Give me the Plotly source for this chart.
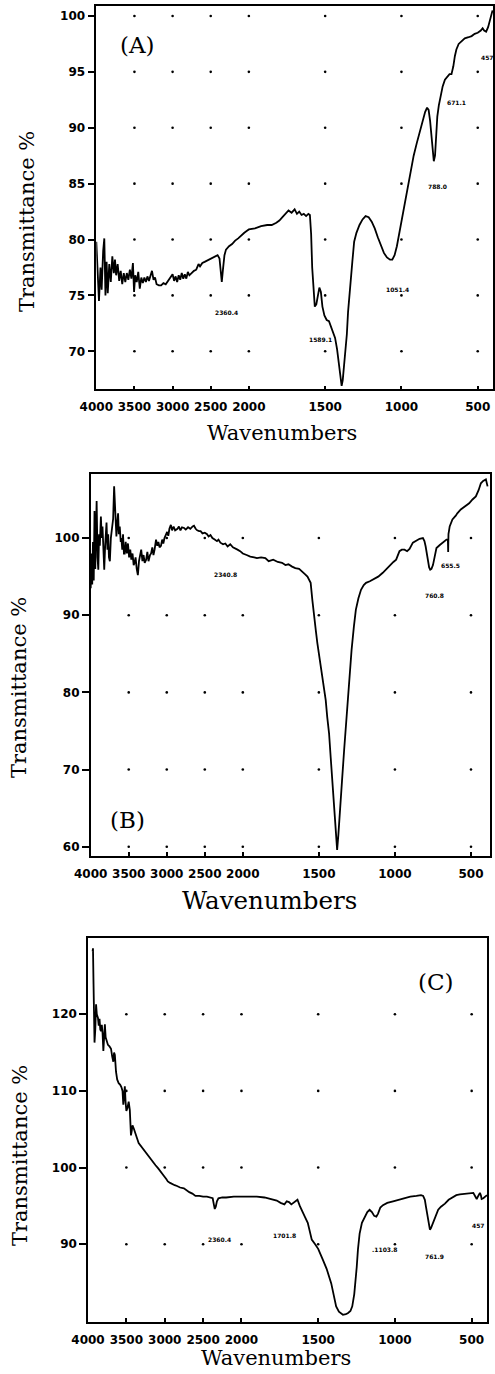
import plotly.graph_objects as go

# ---------------- data ----------------
A_wn = [4000,3985,3965,3945,3930,3910,3895,3880,3865,3850,3830,3810,3790,3770,3755,3740,3720,3700,3680,3660,
        3640,3620,3600,3580,3560,3540,3520,3505,3490,3470,3450,3430,3410,3390,3370,3350,3330,3310,3290,3270,
        3250,3230,3210,3180,3150,3120,3090,3060,3030,3000,2980,2960,2940,2920,2900,2880,2860,2840,2820,2800,
        2780,2750,2720,2690,2660,2640,2610,2580,2550,2500,2450,2410,2385,2370,2355,2340,2320,2300,2260,2220,
        2180,2140,2100,2060,2020,2000,1960,1920,1880,1850,1820,1800,1780,1760,1740,1720,1700,1685,1670,1655,
        1640,1625,1610,1600,1592,1585,1575,1568,1558,1548,1538,1528,1518,1505,1490,1475,1460,1448,1435,1422,
        1410,1400,1392,1385,1375,1365,1358,1350,1342,1332,1322,1310,1295,1275,1255,1235,1215,1195,1175,1155,
        1135,1115,1095,1075,1060,1045,1030,1015,1000,985,970,955,940,920,900,880,860,845,832,822,
        812,803,795,788,780,772,765,755,745,730,715,700,685,672,660,650,640,625,607,585,
        560,540,520,500,480,468,458,445,432,420,410,403]
A_t = [79.8,77.0,74.5,77.5,75.5,79.0,80.1,75.0,78.0,75.2,77.8,76.2,78.5,77.0,78.2,76.8,77.8,76.3,77.2,76.0,
       77.0,76.2,77.0,76.4,77.3,76.5,77.9,75.3,76.8,76.2,77.1,75.6,76.6,76.1,76.6,76.2,76.7,76.3,76.8,77.2,
       76.4,76.6,76.0,75.9,75.9,76.1,76.0,76.3,76.5,76.9,76.3,76.7,76.2,76.8,76.4,77.0,76.5,76.9,76.5,77.1,
       76.8,77.0,77.2,77.3,77.8,77.6,77.9,78.0,78.1,78.3,78.5,78.6,78.3,77.0,76.2,77.3,78.6,79.1,79.4,79.6,
       79.9,80.1,80.4,80.6,80.8,80.9,81.0,81.2,81.3,81.3,81.5,81.7,82.0,82.3,82.6,82.4,82.7,82.3,82.5,82.2,
       82.3,82.1,82.3,82.2,80.5,77.5,75.0,74.0,74.2,75.2,75.7,75.3,74.0,73.2,72.8,72.7,72.1,71.6,71.2,70.2,
       68.8,67.5,66.9,67.4,68.7,70.0,71.5,73.5,75.0,76.0,78.0,79.8,80.6,81.3,81.8,82.1,82.0,81.6,81.0,80.2,
       79.4,78.8,78.4,78.2,78.2,78.6,79.4,80.5,81.8,83.0,84.0,85.0,86.2,87.5,88.6,89.6,90.7,91.4,91.8,91.6,
       90.6,89.0,87.8,87.0,87.5,89.5,91.0,92.0,92.8,93.7,94.3,94.6,94.8,94.8,95.5,96.4,97.0,97.5,97.7,98.0,
       98.1,98.2,98.4,98.5,98.7,98.9,98.7,98.6,99.0,99.7,100.2,100.5]

B_wn = [4000,3990,3980,3970,3960,3950,3940,3930,3922,3910,3900,3890,3880,3866,3855,3845,3835,3822,3810,3800,
        3792,3780,3770,3760,3748,3735,3720,3705,3692,3680,3670,3662,3650,3640,3630,3618,3605,3597,3585,3575,
        3563,3553,3540,3525,3510,3495,3480,3466,3450,3435,3423,3410,3395,3380,3365,3350,3336,3320,3305,3290,
        3271,3255,3240,3220,3206,3190,3175,3160,3141,3125,3110,3095,3076,3060,3045,3030,3011,2995,2980,2965,
        2946,2930,2910,2890,2859,2840,2820,2800,2772,2750,2720,2690,2660,2642,2620,2600,2575,2555,2530,2500,
        2470,2450,2425,2400,2370,2340,2320,2295,2260,2230,2200,2165,2130,2100,2070,2035,2000,1975,1951,1925,
        1907,1880,1852,1830,1800,1770,1742,1720,1700,1676,1655,1630,1610,1590,1575,1566,1554,1543,1532,1520,
        1510,1500,1488,1470,1455,1445,1433,1422,1411,1400,1392,1385,1380,1372,1362,1348,1334,1322,1312,1298,
        1285,1270,1257,1240,1223,1205,1190,1165,1146,1110,1080,1055,1036,1010,992,980,970,955,937,920,
        904,882,860,838,816,806,798,790,783,775,768,760,750,740,727,705,683,661,652,650,
        648,640,622,600,590,567,540,512,490,468,450,435,420,402,391]
B_t = [93.5,98.0,94.0,99.5,94.5,103.5,96.0,100.5,104.8,97.5,95.9,100.5,99.0,102.8,100.0,101.5,98.0,95.9,99.0,100.5,
       102.0,98.5,100.5,97.5,97.0,100.0,101.0,102.5,106.7,103.0,101.0,100.2,102.0,103.2,100.5,101.5,99.5,100.0,98.5,100.5,
       98.0,98.0,99.5,98.0,99.3,97.5,98.5,97.2,98.0,96.5,96.8,97.5,96.0,95.2,97.0,98.0,98.5,97.0,97.8,96.8,
       97.2,98.2,97.0,97.8,98.0,98.8,97.8,98.5,99.8,99.0,99.5,98.8,99.0,99.8,99.3,100.0,100.4,100.8,100.3,101.2,
       101.7,101.0,101.5,101.0,101.2,101.5,101.0,101.4,101.3,101.1,101.4,101.2,101.5,101.6,101.2,101.0,100.9,100.9,100.6,100.7,
       100.5,100.2,100.4,100.0,99.8,99.6,99.8,99.4,99.2,99.3,98.9,99.2,98.8,98.6,98.5,98.3,98.0,97.8,97.6,97.5,
       97.4,97.5,97.4,97.0,97.2,96.9,96.8,96.5,96.6,96.3,96.1,96.0,95.7,95.3,95.0,94.6,94.2,92.0,89.8,88.0,
       86.4,85.0,83.4,81.0,79.0,76.8,74.7,71.5,68.2,65.0,62.5,60.0,59.6,61.5,64.0,68.5,72.5,75.8,79.0,82.3,
       85.5,88.5,90.7,92.2,93.3,93.9,94.2,94.4,94.6,95.0,95.5,96.0,96.5,96.9,97.2,97.7,98.3,98.5,98.5,98.3,
       98.6,99.4,99.7,99.9,100.0,99.6,98.9,97.8,96.8,96.2,95.9,96.0,96.5,97.6,98.7,99.1,99.4,99.8,99.8,98.2,
       100.5,101.5,102.4,102.9,103.2,103.7,104.1,104.5,105.0,105.4,106.2,107.1,107.4,107.6,106.7]

C_wn = [3940,3935,3928,3922,3915,3905,3895,3885,3870,3860,3850,3840,3830,3820,3810,3800,3790,3780,3770,3755,
        3740,3720,3700,3685,3670,3660,3650,3635,3620,3600,3580,3565,3550,3540,3530,3520,3510,3500,3485,3470,
        3455,3445,3440,3430,3420,3400,3380,3360,3340,3310,3280,3240,3200,3160,3120,3085,3050,3010,2980,2960,
        2930,2900,2870,2840,2800,2750,2710,2680,2640,2600,2550,2500,2450,2400,2375,2360,2348,2335,2320,2300,
        2250,2200,2100,2000,1950,1900,1850,1800,1770,1745,1720,1705,1690,1675,1660,1645,1635,1620,1610,1601,
        1585,1568,1555,1542,1520,1500,1470,1445,1415,1400,1383,1365,1350,1339,1320,1307,1290,1278,1265,1257,
        1249,1241,1230,1215,1198,1180,1165,1150,1135,1121,1110,1095,1078,1050,1012,980,947,900,860,830,
        816,810,805,797,788,780,772,765,750,735,718,700,674,650,620,600,577,545,511,489,
        478,467,457,446,440,435,424,407,400]
C_t = [128.2,128.6,124.0,119.0,116.3,118.0,121.3,120.0,119.5,118.5,119.4,118.0,117.8,118.6,117.5,115.2,117.0,118.7,117.0,116.5,
       116.0,115.8,115.5,114.5,113.8,115.0,114.7,112.5,111.5,111.0,110.8,110.5,110.0,108.2,109.5,110.6,108.5,107.4,107.8,108.6,
       107.5,105.5,104.2,104.8,105.5,105.0,104.5,103.8,103.2,102.8,102.4,101.8,101.3,100.8,100.3,99.9,99.5,98.9,98.5,98.2,
       98.0,97.8,97.7,97.6,97.4,97.3,97.0,96.8,96.6,96.3,96.3,96.2,96.2,96.1,96.0,95.2,94.6,94.9,95.6,96.0,
       96.1,96.1,96.2,96.2,96.2,96.2,96.1,95.9,95.7,95.4,95.2,95.6,95.5,95.2,95.4,95.7,95.8,95.0,94.5,94.3,
       93.5,92.8,91.5,90.6,90.0,89.4,88.0,86.8,84.9,83.5,81.9,81.2,80.9,80.8,80.9,81.0,81.3,81.9,83.5,84.9,
       87.0,89.3,91.4,92.8,93.6,94.2,94.5,94.2,93.7,93.6,94.0,94.8,95.1,95.4,95.6,95.8,96.0,96.2,96.3,96.4,
       96.3,96.0,95.8,94.8,93.6,92.5,91.9,92.1,92.9,93.8,94.5,94.9,95.3,95.8,96.2,96.4,96.5,96.6,96.7,96.7,
       96.3,95.9,96.3,96.7,96.4,95.9,96.0,96.3,96.4]

X_TICKS = [4000, 3500, 3000, 2500, 2000, 1500, 1000, 500]
A_YTICKS = [70, 75, 80, 85, 90, 95, 100]
B_YTICKS = [60, 70, 80, 90, 100]
C_YTICKS = [90, 100, 110, 120]

A_PEAKS = ["2360.4", "1589.1", "1051.4", "788.0", "671.1", "457"]
A_PEAK_WN = [2290, 1528, 1025, 763, 638, 438]
A_PEAK_T = [73.5, 71.1, 75.5, 84.7, 92.3, 96.3]
B_PEAKS = ["2340.8", "760.8", "655.5"]
B_PEAK_WN = [2224, 740, 636]
B_PEAK_T = [95.3, 92.5, 96.4]
C_PEAKS = ["2360.4", "1701.8", ".1103.8", "761.9", "457"]
C_PEAK_WN = [2280, 1717, 1065, 744, 453]
C_PEAK_T = [90.6, 91.2, 89.3, 88.4, 92.4]


# Wavenumber axis of the instrument: 4000-2000 drawn at half the scale of 2000-400
def to_u(wn):
    return (4000 - wn) / 2.0 if wn >= 2000 else 1000.0 + (2000 - wn)


W, H = 495, 1374
fig = go.Figure()

panels = [
    dict(wn=A_wn, t=A_t, yt=A_YTICKS, yr=[66.6, 100.92], xr=[0, 2602],
         xd=[96.3, 493.3], yd=[5.7, 389.3], letter="(A)", lw=3454, lt=97.4,
         pk=A_PEAKS, pkw=A_PEAK_WN, pkt=A_PEAK_T, ytc=222, xtc=433, xtx=282, ytx=27, xts=21),
    dict(wn=B_wn, t=B_t, yt=B_YTICKS, yr=[58.8, 108.3], xr=[0, 2625],
         xd=[90.7, 490.0], yd=[474.0, 856.0], letter="(B)", lw=3522, lt=63.5,
         pk=B_PEAKS, pkw=B_PEAK_WN, pkt=B_PEAK_T, ytc=688, xtc=900, xtx=269, ytx=19, xts=24.5),
    dict(wn=C_wn, t=C_t, yt=C_YTICKS, yr=[79.9, 129.9], xr=[0, 2600],
         xd=[88.0, 487.0], yd=[938.3, 1321.7], letter="(C)", lw=733, lt=124.2,
         pk=C_PEAKS, pkw=C_PEAK_WN, pkt=C_PEAK_T, ytc=1156, xtc=1358, xtx=276, ytx=20, xts=21),
]

tickfont = dict(family="DejaVu Sans", size=12, color="black", weight="bold")
serif = "DejaVu Serif"
annotations = []

for i, p in enumerate(panels, start=1):
    sx = "" if i == 1 else str(i)
    xa, ya = "x" + sx, "y" + sx
    fig.add_trace(go.Scatter(x=[to_u(w) for w in p["wn"]], y=p["t"], mode="lines",
                             line=dict(color="black", width=1.8), xaxis=xa, yaxis=ya,
                             showlegend=False, hoverinfo="skip", cliponaxis=False))
    # dotted grid: one dot at every tick crossing
    gx, gy = [], []
    for xv in X_TICKS[1:]:
        for yv in p["yt"]:
            gx.append(to_u(xv)); gy.append(yv)
    fig.add_trace(go.Scatter(x=gx, y=gy, mode="markers",
                             marker=dict(color="black", size=2.6), xaxis=xa, yaxis=ya,
                             showlegend=False, hoverinfo="skip"))
    common = dict(showline=True, mirror=True, linecolor="black", linewidth=1.5,
                  showgrid=False, zeroline=False, tickfont=tickfont, tickcolor="black",
                  tickwidth=1.5, automargin=False)
    fig.update_layout(**{
        "xaxis" + sx: dict(domain=[p["xd"][0] / W, p["xd"][1] / W], range=p["xr"], anchor=ya,
                           tickvals=[to_u(v) for v in X_TICKS], ticktext=[str(v) for v in X_TICKS],
                           ticks="inside", ticklen=4, ticklabelstandoff=6, **common),
        "yaxis" + sx: dict(domain=[1 - p["yd"][1] / H, 1 - p["yd"][0] / H], range=p["yr"], anchor=xa,
                           tickvals=p["yt"], ticktext=[str(v) for v in p["yt"]],
                           ticks="outside", ticklen=7, **common),
    })
    annotations.append(dict(x=to_u(p["lw"]), y=p["lt"], xref=xa, yref=ya,
                            text=p["letter"], showarrow=False, xanchor="center", yanchor="middle",
                            font=dict(family=serif, size=23, color="black")))
    for lab, w, t in zip(p["pk"], p["pkw"], p["pkt"]):
        annotations.append(dict(x=to_u(w), y=t, xref=xa, yref=ya, text=lab, showarrow=False,
                                xanchor="center", yanchor="middle",
                                font=dict(family="DejaVu Sans", size=6, color="black", weight="bold")))
    annotations.append(dict(x=p["xtx"] / W, y=1 - p["xtc"] / H, xref="paper", yref="paper",
                            text="Wavenumbers", showarrow=False, xanchor="center", yanchor="middle",
                            font=dict(family=serif, size=p["xts"], color="black")))
    annotations.append(dict(x=p["ytx"] / W, y=1 - p["ytc"] / H, xref="paper", yref="paper",
                            text="Transmittance %", showarrow=False, textangle=-90,
                            xanchor="center", yanchor="middle",
                            font=dict(family=serif, size=21, color="black")))

fig.update_layout(width=W, height=H, margin=dict(l=0, r=0, t=0, b=0, autoexpand=False),
                  paper_bgcolor="white", plot_bgcolor="white", annotations=annotations)
fig.write_html("out.html", config={"displayModeBar": False},
               post_script="document.body.style.margin='0';document.body.style.overflow='hidden';")
